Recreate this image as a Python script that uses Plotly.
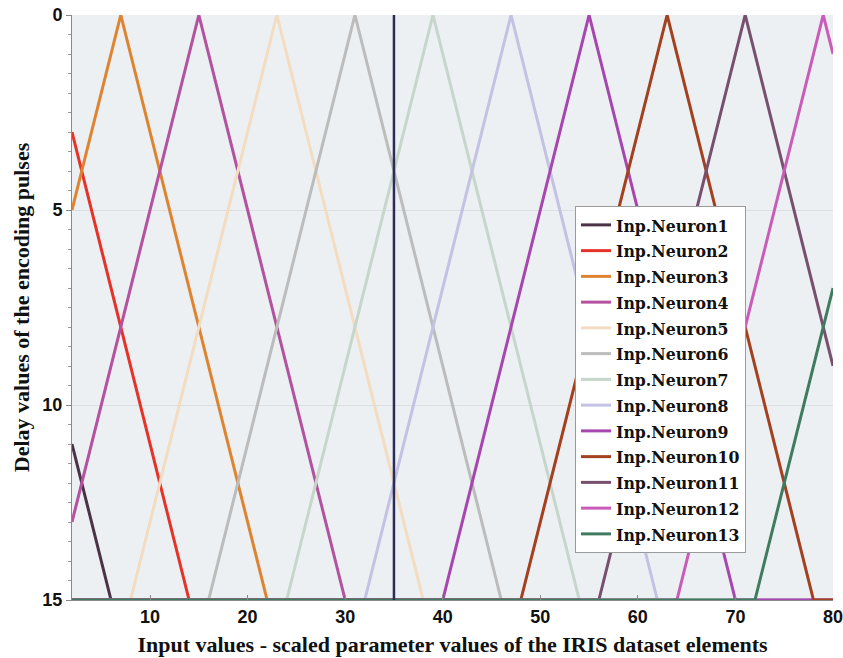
import plotly.graph_objects as go

names = [f"Inp.Neuron{i}" for i in range(1, 14)]
colors = ["#4b3347", "#e63329", "#de8430", "#b3529e", "#f2dcc2", "#bcbcbc",
          "#c6d6ca", "#c3c2e2", "#a646ae", "#a3401f", "#77506e", "#c95cb9", "#3f7b5f"]

xs = [
    [2, 6, 80],
    [2, 14, 80],
    [2, 7, 22, 80],
    [2, 15, 30, 80],
    [2, 8, 23, 38, 80],
    [2, 16, 31, 46, 80],
    [2, 24, 39, 54, 80],
    [2, 32, 47, 62, 80],
    [2, 40, 55, 70, 80],
    [2, 48, 63, 78, 80],
    [2, 56, 71, 80],
    [2, 64, 79, 80],
    [2, 72, 80],
]
ys = [
    [11, 15, 15],
    [3, 15, 15],
    [5, 0, 15, 15],
    [13, 0, 15, 15],
    [15, 15, 0, 15, 15],
    [15, 15, 0, 15, 15],
    [15, 15, 0, 15, 15],
    [15, 15, 0, 15, 15],
    [15, 15, 0, 15, 15],
    [15, 15, 0, 15, 15],
    [15, 15, 0, 9],
    [15, 15, 0, 1],
    [15, 15, 7],
]
input_x = [35, 35]
input_y = [0, 15]

x_ticks = [10, 20, 30, 40, 50, 60, 70, 80]
y_ticks = [0, 5, 10, 15]

fig = go.Figure()
for n, c, x, y in zip(names, colors, xs, ys):
    fig.add_trace(go.Scatter(x=x, y=y, mode="lines", name=n,
                             line=dict(color=c, width=3)))
fig.add_trace(go.Scatter(x=input_x, y=input_y, mode="lines", showlegend=False,
                         line=dict(color="#2c2c5a", width=2.5)))

tickfont = dict(family="Liberation Sans Narrow, Arial Narrow, Liberation Sans", size=18,
                color="#111111", weight="bold")
titlefont = dict(family="Liberation Serif, Times New Roman", size=22, color="#111111")

fig.update_layout(
    width=843, height=658,
    margin=dict(l=72, r=10, t=15, b=58),
    paper_bgcolor="white",
    plot_bgcolor="#edf0f3",
    showlegend=True,
    legend=dict(x=0.661, y=0.6735, xanchor="left", yanchor="top",
                bgcolor="white", bordercolor="#9a9a9a", borderwidth=1,
                font=dict(family="DejaVu Serif Condensed, Liberation Serif, Times New Roman",
                          size=17.5, color="#111111", weight="bold"),
                tracegroupgap=0),
)
fig.update_xaxes(range=[2, 80], tickvals=x_ticks, ticks="inside", ticklen=5,
                 tickcolor="#888888", showgrid=False, zeroline=False,
                 showline=True, linecolor="#8a8a8a", linewidth=1, automargin=False,
                 ticklabeloverflow="allow",
                 tickfont=tickfont,
                 title=dict(text="<b>Input values - scaled parameter values of the IRIS dataset elements</b>",
                            font=titlefont, standoff=11))
fig.update_yaxes(range=[15, 0], tickvals=y_ticks, ticks="outside", ticklen=5,
                 tickcolor="#888888", showgrid=True, gridcolor="#dcdfe2",
                 zeroline=False, showline=True, linecolor="#8a8a8a", linewidth=1,
                 automargin=False, ticklabeloverflow="allow",
                 minor=dict(dtick=0.5, ticks="outside", ticklen=3, tickcolor="#999999",
                            showgrid=False),
                 tickfont=tickfont,
                 title=dict(text="<b>Delay values of the encoding pulses</b>",
                            font=titlefont, standoff=6))

fig.write_html("out.html")
